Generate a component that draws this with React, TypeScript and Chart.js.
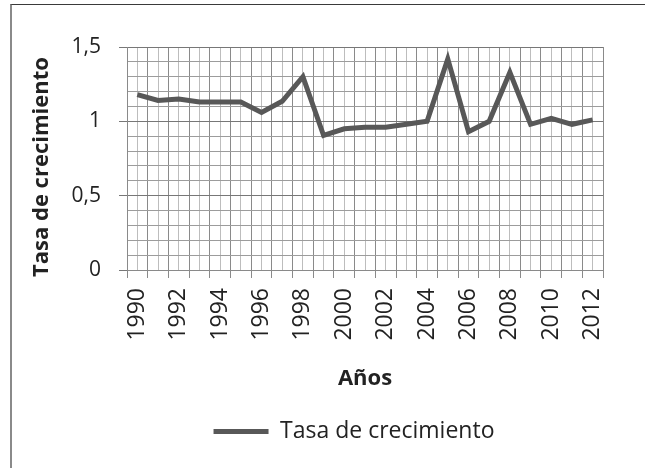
import React, { useEffect, useRef } from "react";
import { Chart, registerables } from "chart.js";

Chart.register(...registerables);

const years: string[] = [
  "1990", "1991", "1992", "1993", "1994", "1995", "1996", "1997", "1998", "1999",
  "2000", "2001", "2002", "2003", "2004", "2005", "2006", "2007", "2008", "2009",
  "2010", "2011", "2012",
];

const growthRate: number[] = [
  1.18, 1.14, 1.15, 1.13, 1.13, 1.13, 1.06, 1.135, 1.30, 0.905,
  0.95, 0.96, 0.96, 0.98, 1.0, 1.42, 0.93, 1.0, 1.33, 0.98,
  1.02, 0.98, 1.01,
];

const seriesName = "Tasa de crecimiento";
const yTitle = "Tasa de crecimiento";
const xTitle = "Años";
const yMin = 0;
const yMax = 1.5;
const yStep = 0.1;

const FONT = "'Open Sans', 'Noto Sans', sans-serif";
const TEXT = "#222222";
const LINE = "#585858";

const legendShift = {
  id: "legendShift",
  afterLayout(chart: any) {
    const lg = chart.legend;
    if (lg) {
      lg.left -= 11;
      lg.right -= 11;
    }
  },
};

export default function App() {
  const ref = useRef<HTMLCanvasElement | null>(null);

  useEffect(() => {
    const canvas = ref.current;
    if (!canvas) return;
    const chart = new Chart(canvas, {
      type: "line",
      data: {
        labels: years,
        datasets: [
          {
            label: seriesName,
            data: growthRate,
            borderColor: LINE,
            backgroundColor: LINE,
            borderWidth: 5,
            pointRadius: 0,
            pointHoverRadius: 0,
            tension: 0,
            borderJoinStyle: "miter",
            xAxisID: "x",
            yAxisID: "y",
          },
        ],
      },
      plugins: [legendShift],
      options: {
        responsive: false,
        animation: false,
        events: [],
        layout: { padding: { left: 0, right: 42, top: 47, bottom: 15 } },
        plugins: {
          tooltip: { enabled: false },
          legend: {
            display: true,
            position: "bottom",
            fullSize: false,
            labels: {
              font: { family: FONT, size: 23 },
              color: TEXT,
              boxWidth: 55,
              boxHeight: 5,
              padding: 20,
              generateLabels: (ch: any) =>
                ch.data.datasets.map((ds: any, i: number) => ({
                  text: ds.label,
                  fillStyle: LINE,
                  strokeStyle: LINE,
                  lineWidth: 0,
                  hidden: false,
                  datasetIndex: i,
                  fontColor: TEXT,
                })),
            },
          },
        },
        scales: {
          x: {
            type: "category",
            position: "bottom",
            offset: true,
            grid: {
              offset: true,
              color: "#8a8a8a",
              lineWidth: 1,
              drawTicks: true,
              tickLength: 8,
              tickColor: "#8a8a8a",
            },
            border: { display: true, color: "#8a8a8a", width: 1 },
            ticks: {
              autoSkip: false,
              maxRotation: 90,
              minRotation: 90,
              padding: 10,
              color: TEXT,
              font: { family: FONT, size: 23 },
              callback: (_v: any, i: number) => (i % 2 === 0 ? years[i] : ""),
            },
            title: {
              display: true,
              text: xTitle,
              color: TEXT,
              font: { family: FONT, size: 22, weight: "bold" },
              padding: { top: 0, bottom: 8 },
            },
            afterFit: (scale: any) => {
              scale.height = 130;
            },
          },
          x2: {
            type: "category",
            position: "bottom",
            offset: true,
            grid: {
              offset: false,
              color: "#bdbdbd",
              lineWidth: 1,
              drawTicks: false,
            },
            border: { display: false },
            ticks: { display: false },
            afterFit: (scale: any) => {
              scale.height = 0;
            },
          },
          y: {
            type: "linear",
            position: "left",
            min: yMin,
            max: yMax,
            grid: {
              color: (ctx: any) => (Math.round(ctx.tick.value * 10) % 5 === 0 ? "#777777" : "#9c9c9c"),
              lineWidth: 1,
              drawTicks: true,
              tickLength: 8,
              tickColor: (ctx: any) => (Math.round(ctx.tick.value * 10) % 5 === 0 ? "#777777" : "rgba(0,0,0,0)"),
            },
            border: { display: true, color: "#8a8a8a", width: 1 },
            ticks: {
              stepSize: yStep,
              autoSkip: false,
              padding: 18,
              color: TEXT,
              font: { family: FONT, size: 21 },
              callback: (v: any) => {
                const n = Math.round(Number(v) * 10);
                if (n % 5 !== 0) return "";
                const val = n / 10;
                return String(val).replace(".", ",");
              },
            },
            title: {
              display: true,
              text: yTitle + "   ",
              color: TEXT,
              font: { family: FONT, size: 22, weight: "bold" },
              padding: { top: 29, bottom: 0 },
            },
            afterFit: (scale: any) => {
              scale.width = 127;
            },
          },
        },
      },
    });
    return () => chart.destroy();
  }, []);

  return (
    <div style={{ position: "fixed", left: 0, top: 0, width: 645, height: 468, background: "#fff", overflow: "hidden" }}>
      <div
        style={{
          position: "absolute",
          left: 10,
          top: 4,
          width: 700,
          height: 500,
          borderTop: "1px solid #3a3a3a",
          borderLeft: "2px solid #8a8a8a",
          boxSizing: "border-box",
        }}
      />
      <canvas ref={ref} width={645} height={468} style={{ position: "absolute", left: 0, top: 0, width: 645, height: 468 }} />
    </div>
  );
}
